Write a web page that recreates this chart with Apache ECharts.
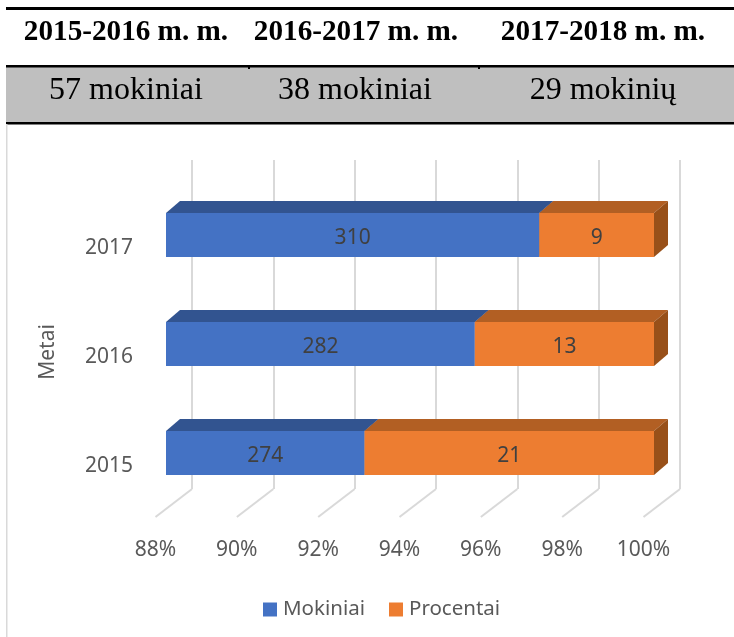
<!DOCTYPE html>
<html><head><meta charset="utf-8">
<style>html,body{margin:0;padding:0;background:#fff}#c{width:734px;height:637px}</style>
<script src="https://cdn.jsdelivr.net/npm/echarts@6/dist/echarts.min.js"></script>
</head><body><div id="c"></div>
<script>
const years = ['2015','2016','2017'];
const mokiniai = [274,282,310];
const procentai = [21,13,9];
const tableHeads = ['2015-2016 m. m.','2016-2017 m. m.','2017-2018 m. m.'];
const tableValues = ['57 mokiniai','38 mokiniai','29 mokinių'];
const axisTicks = [88,90,92,94,96,98,100];
const seriesNames = ['Mokiniai','Procentai'];

const FONT = '"Noto Sans", sans-serif';
const GRID = '#d9d9d9';
const DX = 14, DY = 12;

const totals = years.map((_, i) => mokiniai[i] + procentai[i]);
const blueData = years.map((_, i) => [88, mokiniai[i] / totals[i] * 100, i, mokiniai[i]]);
const orangeData = years.map((_, i) => [mokiniai[i] / totals[i] * 100, 100, i, procentai[i]]);

function barRenderer(front, top, side) {
  return function (params, api) {
    const a = api.coord([api.value(0), api.value(2)]);
    const b = api.coord([api.value(1), api.value(2)]);
    const h = api.size([0, 1])[1] * 0.404;
    const x0 = a[0], x1 = b[0], yt = a[1] - h / 2, yb = a[1] + h / 2;
    return { type: 'group', children: [
      { type: 'polygon', shape: { points: [[x0,yt],[x0+DX,yt-DY],[x1+DX,yt-DY],[x1,yt]] }, style: { fill: top } },
      { type: 'polygon', shape: { points: [[x1,yt],[x1+DX,yt-DY],[x1+DX,yb-DY],[x1,yb]] }, style: { fill: side } },
      { type: 'rect', shape: { x: x0, y: yt, width: x1 - x0, height: h }, style: { fill: front } },
      { type: 'text', style: { x: (x0 + x1) / 2, y: a[1] + 3, text: String(api.value(3)), fill: '#404040',
        font: '21px ' + FONT, align: 'center', verticalAlign: 'middle' } }
    ]};
  };
}

const T = [];
function line(x, y, w, h, c) { T.push({ type: 'rect', silent: true, shape: { x, y, width: w, height: h }, style: { fill: c } }); }
line(6, 67, 728, 56, '#bfbfbf');
line(6, 7, 728, 3, '#000');
line(6, 65, 728, 2.5, '#000');
line(6, 122, 728, 2.5, '#000');
line(6, 124, 1.5, 513, GRID);
line(248, 67, 2, 2, '#000');
line(478, 67, 2, 2, '#000');
const headX = [126, 356, 603], subX = [126, 355, 603];
tableHeads.forEach((t, i) => T.push({ type: 'text', silent: true, style: { x: headX[i], y: 32, text: t, fill: '#000',
  font: 'bold 29.2px "Liberation Serif"', align: 'center', verticalAlign: 'middle' } }));
tableValues.forEach((t, i) => T.push({ type: 'text', silent: true, style: { x: subX[i], y: 91, text: t, fill: '#000',
  font: '32px "Liberation Serif"', align: 'center', verticalAlign: 'middle' } }));

const chart = echarts.init(document.getElementById('c'), null, { renderer: 'canvas' });
chart.setOption({
  animation: false,
  backgroundColor: '#fff',
  graphic: T,
  legend: { data: seriesNames, left: 258, top: 594, itemWidth: 14, itemHeight: 14, itemGap: 24, icon: 'rect',
    textStyle: { color: '#595959', fontSize: 20.5, fontFamily: FONT, padding: [0,0,0,1] } },
  grid: [
    { left: 192, top: 160, width: 488, height: 329 },
    { left: 155.5, top: 489, width: 488, height: 28 },
    { left: 166, top: 180.5, width: 488, height: 327 }
  ],
  xAxis: [
    { gridIndex: 0, type: 'value', min: 88, max: 100, interval: 2, axisLine: {show:false}, axisTick: {show:false}, axisLabel: {show:false},
      splitLine: { show: true, lineStyle: { color: GRID, width: 2 } } },
    { gridIndex: 1, type: 'value', min: 88, max: 100, interval: 2, axisLine: {show:false}, axisTick: {show:false}, splitLine: {show:false},
      axisLabel: { show: true, formatter: '{value}%', color: '#595959', fontSize: 21, fontFamily: FONT, margin: 23, hideOverlap: false, showMinLabel: true, showMaxLabel: true } },
    { gridIndex: 2, type: 'value', min: 88, max: 100, interval: 2, axisLine: {show:false}, axisTick: {show:false}, axisLabel: {show:false}, splitLine: {show:false} }
  ],
  yAxis: [
    { gridIndex: 0, type: 'value', min: 0, max: 1, show: false },
    { gridIndex: 1, type: 'value', min: 0, max: 1, show: false },
    { gridIndex: 2, type: 'category', data: years, axisLine: {show:false}, axisTick: {show:false}, splitLine: {show:false},
      axisLabel: { color: '#595959', fontSize: 21, fontFamily: FONT, margin: 33, verticalAlign: 'top', padding: [3,0,0,0] },
      name: 'Metai', nameLocation: 'middle', nameGap: 107, nameRotate: 90,
      nameTextStyle: { color: '#595959', fontSize: 21, fontFamily: FONT, padding: [0,16,0,0] } }
  ],
  series: [
    { type: 'custom', name: 'floor', xAxisIndex: 1, yAxisIndex: 1, silent: true, clip: false, z: 1, data: axisTicks.map(v => [v]),
      renderItem(params, api) {
        const p0 = api.coord([api.value(0), 0]), p1 = api.coord([api.value(0), 1]);
        return { type: 'line', shape: { x1: p0[0], y1: p0[1], x2: p0[0] + 36.5, y2: p1[1] }, style: { stroke: GRID, lineWidth: 2 } };
      } },
    { type: 'custom', name: seriesNames[0], xAxisIndex: 2, yAxisIndex: 2, clip: false, z: 2, silent: true,
      itemStyle: { color: '#4472C4' }, data: blueData, renderItem: barRenderer('#4472C4', '#325490', '#2F528F') },
    { type: 'custom', name: seriesNames[1], xAxisIndex: 2, yAxisIndex: 2, clip: false, z: 3, silent: true,
      itemStyle: { color: '#ED7D31' }, data: orangeData, renderItem: barRenderer('#ED7D31', '#B25F23', '#985019') }
  ]
});
</script></body></html>
